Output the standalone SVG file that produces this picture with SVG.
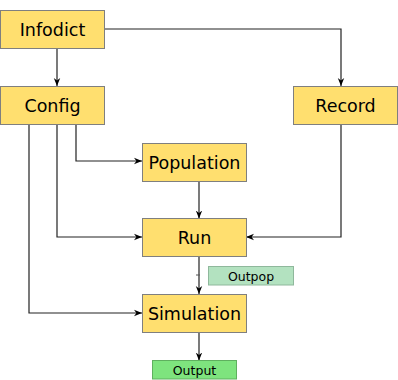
<svg xmlns="http://www.w3.org/2000/svg" width="398" height="380" viewBox="0 0 398 380">
  <style>
    .node { fill: #ffdf6f; stroke: #7f7f7f; stroke-width: 1; }
    .out1 { fill: #b3e2c0; stroke: #8fb89c; stroke-width: 1; }
    .out2 { fill: #7ee47e; stroke: #5fb05f; stroke-width: 1; }
    .lbl { font-family: "DejaVu Sans", sans-serif; font-size: 17.5px; fill: #000; text-anchor: middle; dominant-baseline: central; }
    .sm { font-family: "DejaVu Sans", sans-serif; font-size: 12.5px; fill: #000; text-anchor: middle; dominant-baseline: central; }
    .edge { fill: none; stroke: #222; stroke-width: 1.2; marker-end: url(#arr); }
  </style>
  <defs>
    <marker id="arr" viewBox="0 0 10 10" refX="10" refY="5" markerWidth="8" markerHeight="8" markerUnits="userSpaceOnUse" orient="auto">
      <path d="M0,1 L10,5 L0,9 L3,5 z" fill="#000"/>
    </marker>
  </defs>
  <g id="connectors">
    <path class="edge" d="M57,48 V86"/>
    <path class="edge" d="M104,29 H341 V86"/>
    <path class="edge" d="M76,124 V161 H142"/>
    <path class="edge" d="M57,124 V237 H142"/>
    <path class="edge" d="M29,124 V313 H142"/>
    <path class="edge" d="M199,181 V218.5"/>
    <path class="edge" d="M341,124 V237 H246"/>
    <path class="edge" d="M199,256 V294"/>
    <path d="M196,275 H200" stroke="#555" stroke-width="1" fill="none"/>
    <path class="edge" d="M199,332 V360.5"/>
  </g>
  <g id="infodict"><rect class="node" x="0.5" y="10.5" width="104" height="38"/><text class="lbl" x="52.5" y="29.5">Infodict</text></g>
  <g id="config"><rect class="node" x="0.5" y="86.5" width="104" height="38"/><text class="lbl" x="52.5" y="105.5">Config</text></g>
  <g id="record"><rect class="node" x="293.5" y="86.5" width="104" height="38"/><text class="lbl" x="345.5" y="105.5">Record</text></g>
  <g id="population"><rect class="node" x="142.5" y="143.5" width="104" height="38"/><text class="lbl" x="194.5" y="162.5">Population</text></g>
  <g id="run"><rect class="node" x="142.5" y="218.5" width="104" height="38"/><text class="lbl" x="194.5" y="237.5">Run</text></g>
  <g id="simulation"><rect class="node" x="142.5" y="294.5" width="104" height="38"/><text class="lbl" x="194.5" y="313.5">Simulation</text></g>
  <g id="outpop"><rect class="out1" x="208.5" y="266.5" width="85" height="18.5"/><text class="sm" x="251" y="276">Outpop</text></g>
  <g id="output"><rect class="out2" x="152.5" y="360.5" width="84" height="18.5"/><text class="sm" x="194.5" y="370">Output</text></g>
</svg>
